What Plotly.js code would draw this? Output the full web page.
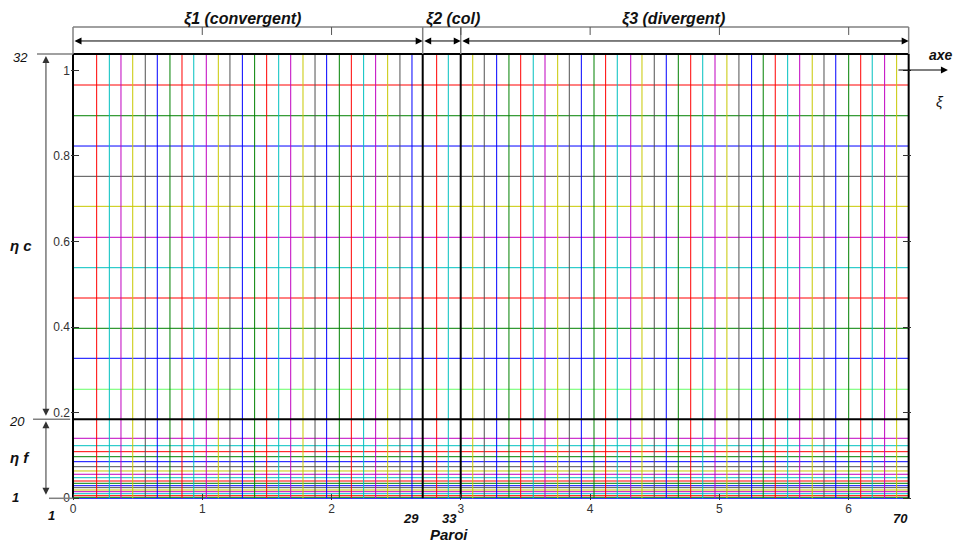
<!DOCTYPE html>
<html><head><meta charset="utf-8">
<script src="https://cdn.plot.ly/plotly-3.0.1.min.js"></script>
<style>html,body{margin:0;padding:0;background:#fff;}#chart{width:953px;height:543px;}</style>
</head><body><div id="chart"></div>
<script>
// ---- data: grid line positions (xi = longitudinal, eta = transverse) ----
const xiPos = [0.183,0.281,0.371,0.462,0.559,0.652,0.750,0.843,0.934,1.031,1.124,1.214,1.310,1.405,
  1.498,1.591,1.684,1.779,1.872,1.962,2.060,2.153,2.248,2.341,2.434,2.529,2.622,
  2.813,2.903,
  3.092,3.181,3.277,3.372,3.463,3.560,3.651,3.749,3.839,3.932,4.030,4.120,4.210,4.314,4.401,4.496,
  4.589,4.682,4.778,4.871,4.966,5.058,5.151,5.249,5.339,5.432,5.528,5.621,5.718,5.809,5.900,6.000,
  6.093,6.182,6.278,6.371];
const xiColorKey = "RCMYKBGRCMYKBGRCMYKBGRCMYKB" + "RC" + "YKBGRCMYKBGRCMYKBGRCMYKBGRCMYKBGRCMY";
const etaPos = [0,0.0023,0.0061,0.0107,0.0154,0.0194,0.0248,0.0294,0.0350,0.0404,0.0481,0.0561,
  0.0638,0.0738,0.0855,0.0972,0.1089,0.1229,0.1402,
  0.2547,0.3271,0.3972,0.4680,0.5388,0.6098,0.6822,0.7523,0.8231,0.8939,0.9657];
const etaColorKey = "BGRCMYKBGRCMYKBGRCM" + "LBGRCMYKBGR";
// block boundaries (black lines)
const xiBlockIdx = [1, 29, 33, 70];
const xiBlockPos = [0, 2.705, 2.999, 6.464];
const etaBlockIdx = [1, 20, 32];
const etaBlockPos = [0, 0.1846, 1.038];
// regions along xi
const regionLabels = ['ξ1 (convergent)', 'ξ2 (col)', 'ξ3 (divergent)'];
const regionStart = [0, 2.705, 2.999];
const regionEnd = [2.705, 2.999, 6.464];
const xTickVals = [0,1,2,3,4,5,6];
const yTickVals = [0,0.2,0.4,0.6,0.8,1];

// ---- styles ----
const palette = {R:'#ff0000', C:'#00c0c0', M:'#c000c0', Y:'#c8c800', K:'#505050', B:'#0000ff', G:'#008000', L:'#66ff66'};
const FONT = 'Liberation Sans, Arial, sans-serif';

function lineTraces(pos, keys, vertical, lo, hi, widthOverride, colorOverride) {
  const groups = {};
  pos.forEach((p, i) => {
    const c = colorOverride || palette[keys[i]];
    const g = groups[c] || (groups[c] = {x: [], y: []});
    if (vertical) { g.x.push(p, p, null); g.y.push(lo, hi, null); }
    else { g.x.push(lo, hi, null); g.y.push(p, p, null); }
  });
  return Object.keys(groups).map(c => ({
    type: 'scatter', mode: 'lines', x: groups[c].x, y: groups[c].y,
    line: {color: c, width: widthOverride || 1}, hoverinfo: 'skip', showlegend: false
  }));
}

const xMax = xiBlockPos[xiBlockPos.length - 1];
const yMax = etaBlockPos[etaBlockPos.length - 1];

const traces = [].concat(
  lineTraces(etaPos, etaColorKey, false, 0, xMax),
  lineTraces(xiPos, xiColorKey, true, 0, yMax),
  lineTraces(etaBlockPos.slice(1), null, false, 0, xMax, 2, '#000000'),
  lineTraces(xiBlockPos, null, true, 0, yMax, 2, '#000000')
);

// ---- decorations ----
const boxTop = 1.0558, boxBottom = 0.9955, arrowY = 1.0246;
const shapes = [];
shapes.push({type:'line', xref:'x', yref:'paper', x0:0, x1:xMax, y0:boxTop, y1:boxTop, line:{color:'#808080', width:1.5}});
xiBlockPos.forEach(p => shapes.push({type:'line', xref:'x', yref:'paper', x0:p, x1:p, y0:boxBottom, y1:boxTop, line:{color:'#808080', width:1.5}}));
xTickVals.slice(1).forEach(t => shapes.push({type:'line', xref:'x', yref:'paper', x0:t, x1:t, y0:boxTop, y1:1.038, line:{color:'#555', width:1}}));
// left side reference lines
shapes.push({type:'line', xref:'paper', yref:'y', x0:-0.0405, x1:0.0024, y0:yMax, y1:yMax, line:{color:'#808080', width:1.5}});
shapes.push({type:'line', xref:'paper', yref:'y', x0:-0.0452, x1:-0.001, y0:etaBlockPos[1], y1:etaBlockPos[1], line:{color:'#808080', width:1.5}});
shapes.push({type:'line', xref:'paper', yref:'y', x0:-0.0262, x1:0.0024, y0:0, y1:0, line:{color:'#808080', width:1.5}});

const ann = [];
const arrowBase = {text:'', showarrow:true, arrowside:'end+start', arrowhead:2, startarrowhead:2,
  arrowsize:1.4, startarrowsize:1.4, arrowwidth:1, arrowcolor:'#000', standoff:0, startstandoff:0};
regionLabels.forEach((lab, i) => {
  ann.push(Object.assign({}, arrowBase, {xref:'x', yref:'paper', x:regionEnd[i], y:arrowY, axref:'x', ax:regionStart[i], ayref:'pixel', ay:0}));
  ann.push({xref:'x', yref:'paper', x:(i===1 ? 2.939 : (regionStart[i]+regionEnd[i])/2 + (i===0?-0.04:-0.09)), y:1.0737, text:'<b><i>'+lab+'</i></b>',
    showarrow:false, font:{family:FONT, size:16, color:'#111'}, xanchor:'center', yanchor:'middle'});
});
// vertical arrows on the left (eta c and eta f)
ann.push(Object.assign({}, arrowBase, {arrowcolor:'#333', xref:'paper', yref:'y', x:-0.0298, y:yMax, axref:'pixel', ax:0, ayref:'y', ay:etaBlockPos[1], standoff:2, startstandoff:2}));
ann.push(Object.assign({}, arrowBase, {arrowcolor:'#333', xref:'paper', yref:'y', x:-0.0298, y:etaBlockPos[1], axref:'pixel', ax:0, ayref:'y', ay:0, standoff:2, startstandoff:2}));
// axis arrow on the right
ann.push({text:'', showarrow:true, arrowhead:2, arrowsize:1.4, arrowwidth:1, arrowcolor:'#000', xref:'paper', yref:'paper', x:1.044, y:0.9598, axref:'pixel', ax:-51, ayref:'pixel', ay:0, standoff:0});
const txt = (o) => Object.assign({showarrow:false, xanchor:'center', yanchor:'middle', font:{family:FONT, size:14, color:'#111'}}, o);
ann.push(txt({xref:'paper', yref:'paper', x:1.0190, y:0.9933, xanchor:'left', text:'<b><i>axe</i></b>', font:{family:FONT, size:14, color:'#111'}}));
ann.push(txt({xref:'paper', yref:'paper', x:1.0345, y:0.8906, text:'<i>ξ</i>', font:{family:FONT, size:15, color:'#111'}}));
ann.push(txt({xref:'paper', yref:'y', x:-0.0607, y:etaBlockPos[2], yshift:-3, text:'<i>'+etaBlockIdx[2]+'</i>', font:{family:FONT, size:13, color:'#111'}}));
ann.push(txt({xref:'paper', yref:'y', x:-0.0643, y:etaBlockPos[1], yshift:-2, text:'<i>'+etaBlockIdx[1]+'</i>', font:{family:FONT, size:13, color:'#111'}}));
ann.push(txt({xref:'paper', yref:'y', x:-0.0655, y:etaBlockPos[0], yshift:1, text:'<b><i>'+etaBlockIdx[0]+'</i></b>', font:{family:FONT, size:13, color:'#111'}}));
ann.push(txt({xref:'paper', yref:'paper', x:-0.0595, y:(500-245)/448, text:'<b><i>η c</i></b>', font:{family:FONT, size:15, color:'#111'}}));
ann.push(txt({xref:'paper', yref:'paper', x:-0.0607, y:(500-457)/448, text:'<b><i>η f</i></b>', font:{family:FONT, size:15, color:'#111'}}));
xiBlockIdx.forEach((idx, i) => {
  ann.push(txt({xref:'x', yref:'paper', x:xiBlockPos[i], xanchor:'right', xshift:(i===0 ? -16 : (i===3 ? 1 : -2)),
    y:(i===0 ? -0.0335 : -0.0402), text:'<b><i>'+idx+'</i></b>', font:{family:FONT, size:13, color:'#111'}}));
});
ann.push(txt({xref:'paper', yref:'paper', x:0.45, y:-0.078, text:'<b><i>Paroi</i></b>', font:{family:FONT, size:15, color:'#111'}}));

const layout = {
  width:953, height:543, margin:{l:71, r:42, t:52, b:43},
  paper_bgcolor:'#fff', plot_bgcolor:'#fff', showlegend:false,
  xaxis:{range:[-0.0155, 6.482], tickvals:xTickVals, ticks:'inside', ticklen:6, tickcolor:'#333',
    showline:false, showgrid:false, zeroline:false, tickfont:{family:FONT, size:12, color:'#333'}},
  yaxis:{range:[-0.004, 1.0428], tickvals:yTickVals, ticks:'inside', ticklen:8, tickcolor:'#333', mirror:'ticks',
    showline:false, showgrid:false, zeroline:false, tickfont:{family:FONT, size:12, color:'#333'}},
  shapes:shapes, annotations:ann
};
Plotly.newPlot('chart', traces, layout, {staticPlot:true, displayModeBar:false});
</script></body></html>
